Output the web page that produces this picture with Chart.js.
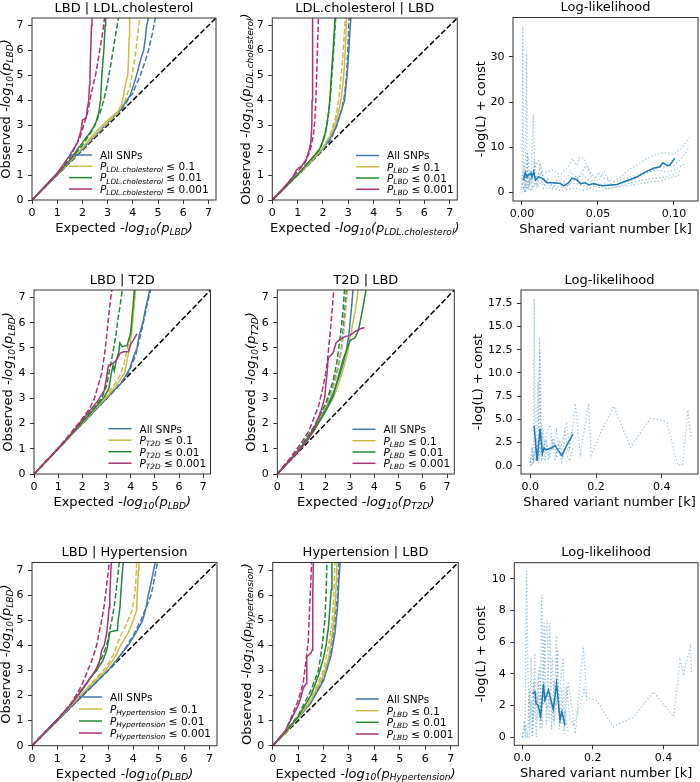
<!DOCTYPE html>
<html><head><meta charset="utf-8">
<script src="https://cdn.jsdelivr.net/npm/chart.js@4"></script>
<style>
html,body{margin:0;padding:0;background:#fff;overflow:hidden;width:700px;height:782px;position:relative;}
canvas{position:absolute;}
</style></head><body>
<script>
// ---------------- DATA ----------------
const qqTicks = [0,1,2,3,4,5,6,7];
const qqRange = [0,7.3];
const diag = [[0,0],[7.3,7.3]];
const thresholds = ['0.1','0.01','0.001'];

// Panel A: LBD | LDL.cholesterol  (solid = observed, dashed = reference)
const A_all_s = [[0,0],[1,1],[2,2.05],[3,3.1],[3.5,3.6],[3.9,4.2],[4.15,5.0],[4.3,5.6],[4.43,6.0],[4.5,6.5],[4.55,7.0],[4.62,7.3]];
const A_all_d = [[0,0],[1,1],[2,2.02],[3,3.05],[3.6,3.7],[4.0,4.3],[4.3,5.0],[4.5,5.6],[4.62,6.0],[4.78,6.7],[4.89,7.3]];
const A_p1_s = [[0,0],[1,1.02],[2,2.1],[2.5,2.7],[3.0,3.2],[3.4,3.55],[3.55,3.8],[3.65,4.3],[3.72,4.7],[3.8,5.0],[3.83,5.6],[3.85,6.5],[3.87,7.3]];
const A_p1_d = [[0,0],[1,1.02],[2,2.08],[2.5,2.6],[3.0,3.1],[3.4,3.5],[3.7,4.0],[3.9,4.6],[4.0,5.2],[4.1,5.8],[4.18,6.5],[4.27,7.3]];
const A_p01_s = [[0,0],[1,1.05],[1.5,1.6],[2,2.3],[2.3,2.7],[2.5,3.0],[2.65,3.5],[2.72,4.0],[2.77,5.0],[2.85,6.0],[2.9,7.0],[2.92,7.3]];
const A_p01_d = [[0,0],[1,1.05],[1.5,1.6],[2,2.2],[2.4,2.8],[2.7,3.5],[2.85,4.0],[3.0,4.7],[3.1,5.3],[3.22,6.0],[3.33,6.7],[3.43,7.3]];
const A_p001_s = [[0,0],[1,1.08],[1.5,1.8],[1.8,2.3],[1.95,2.8],[2.0,3.2],[2.15,3.3],[2.2,3.7],[2.25,4.0],[2.28,4.6],[2.3,5.0],[2.33,6.0],[2.36,7.0],[2.38,7.3]];
const A_p001_d = [[0,0],[1,1.05],[1.5,1.7],[1.9,2.5],[2.05,3.0],[2.2,3.5],[2.3,4.0],[2.42,4.6],[2.52,5.0],[2.62,5.6],[2.72,6.2],[2.8,6.7],[2.88,7.3]];

// Panel B: LDL.cholesterol | LBD
const B_all_s = [[0,0],[0.5,0.5],[1,1.0],[1.5,1.5],[2,2.05],[2.3,2.5],[2.5,2.9],[2.7,3.5],[2.85,4.0],[2.95,5.0],[3.02,6.0],[3.06,6.7],[3.1,7.3]];
const B_all_d = [[0,0],[1,1.0],[2,2.02],[2.3,2.4],[2.55,3.0],[2.75,3.7],[2.85,4.2],[2.93,5.0],[2.98,6.0],[3.03,7.3]];
const B_p1_s = [[0,0],[1,1.0],[1.5,1.5],[2,2.1],[2.3,2.6],[2.5,3.1],[2.65,3.7],[2.75,4.3],[2.82,5.0],[2.88,6.0],[2.93,7.3]];
const B_p1_d = [[0,0],[1,1.0],[2,2.08],[2.3,2.65],[2.5,3.3],[2.62,4.0],[2.72,5.0],[2.8,6.0],[2.88,7.3]];
const B_p01_s = [[0,0],[1,1.02],[1.5,1.6],[1.85,2.0],[2.05,2.5],[2.15,3.0],[2.22,3.5],[2.27,4.0],[2.33,5.0],[2.4,6.0],[2.44,6.7],[2.48,7.3]];
const B_p01_d = [[0,0],[1,1.02],[1.5,1.58],[1.9,2.1],[2.1,2.7],[2.2,3.3],[2.28,4.0],[2.35,5.0],[2.42,6.0],[2.5,7.3]];
const B_p001_s = [[0,0],[0.5,0.55],[0.8,0.9],[0.95,1.2],[1.05,1.3],[1.15,1.35],[1.25,1.5],[1.35,1.65],[1.45,2.0],[1.52,2.3],[1.56,3.0],[1.57,4.0],[1.58,5.0],[1.59,6.0],[1.6,7.3]];
const B_p001_d = [[0,0],[0.5,0.55],[1,1.15],[1.3,1.5],[1.5,2.0],[1.62,2.6],[1.68,3.2],[1.72,4.0],[1.75,5.0],[1.78,6.0],[1.82,7.3]];

// Panel C: log-likelihood (row 1)
const C_xTicks = [0,0.05,0.10];
const C_yTicks = [0,10,20,30];
const C_xRange = [-0.0059,0.1158];
const C_yRange = [-1.85,38.7];
const C_mean = [[0.0011,2.8],[0.0022,4.4],[0.0033,3.5],[0.0044,3.9],[0.0059,4.3],[0.0066,3.4],[0.0077,4.6],[0.0088,2.8],[0.011,3.5],[0.0132,3.2],[0.0164,2.2],[0.0208,2.2],[0.0252,2.0],[0.0274,1.5],[0.0307,2.2],[0.0329,3.2],[0.0362,2.8],[0.0384,2.0],[0.0417,2.2],[0.0439,1.7],[0.0471,2.0],[0.0504,1.7],[0.0537,1.5],[0.0581,1.7],[0.0625,1.8],[0.0669,2.4],[0.0713,2.9],[0.0757,3.5],[0.080,4.3],[0.0833,4.9],[0.0866,5.4],[0.0906,5.7],[0.0928,6.6],[0.095,6.1],[0.0971,6.0],[0.1005,7.6]];
const C_rep1 = [[0.000,0.5],[0.0005,36.9],[0.001,2],[0.002,5],[0.003,1],[0.004,8],[0.005,2],[0.007,4],[0.009,6],[0.011,7],[0.013,5],[0.016,4.5],[0.02,5],[0.025,4],[0.03,5.5],[0.033,7.5],[0.036,6],[0.038,7.8],[0.041,7.5],[0.044,5],[0.047,2],[0.05,4.5],[0.055,3],[0.06,2.5],[0.065,3.5],[0.07,5],[0.075,6],[0.08,7],[0.085,8],[0.09,8.6],[0.095,8.9],[0.1,8.5],[0.105,9.8],[0.11,12.2]];
const C_rep2 = [[0.000,1],[0.001,4],[0.002,0.5],[0.003,30.7],[0.0035,2],[0.005,3],[0.007,1],[0.009,3],[0.012,5],[0.015,3],[0.02,2],[0.025,2.5],[0.03,1.5],[0.035,3],[0.04,4],[0.045,2.5],[0.05,1],[0.055,2],[0.06,1.5],[0.07,2.5],[0.08,4],[0.09,5.5],[0.1,6],[0.105,7.5],[0.11,10]];
const C_rep3 = [[0.000,2],[0.002,0],[0.004,2],[0.006,3],[0.0075,17.2],[0.0085,4],[0.01,2],[0.012,6],[0.014,3],[0.018,2],[0.022,1.5],[0.028,1],[0.032,2],[0.036,2],[0.04,1.5],[0.045,1],[0.05,2],[0.053,1],[0.058,0.8],[0.065,1.5],[0.075,2.5],[0.085,3],[0.095,3.5],[0.1,4],[0.105,5]];
const C_rep4 = [[0.000,0],[0.001,1],[0.002,0],[0.004,1.5],[0.006,0.3],[0.008,2],[0.01,1],[0.013,2.5],[0.016,1],[0.02,1.2],[0.025,0.5],[0.03,0.8],[0.035,1],[0.04,0.5],[0.045,1],[0.05,0.3],[0.055,0.8],[0.06,1.2],[0.07,1.5],[0.08,2.2],[0.09,2.5],[0.1,3.5],[0.105,4]];
const C_rep5 = [[0.000,3],[0.0015,6],[0.0025,1],[0.0035,9],[0.0045,0.5],[0.0055,5],[0.0065,2],[0.008,6.5],[0.0095,1.5],[0.012,4],[0.014,1],[0.017,3],[0.02,0.8],[0.024,3.5],[0.028,2.5],[0.032,4.5],[0.037,3],[0.042,6],[0.046,4],[0.05,2.5],[0.054,4.8],[0.058,2],[0.064,2.8],[0.07,3.2],[0.08,4.5],[0.09,5],[0.095,4.5],[0.1,5],[0.108,6.5]];

// Panel D: LBD | T2D
const D_all_s = [[0,0],[1,1],[2,2.0],[2.5,2.5],[3.0,3.0],[3.3,3.3],[3.6,3.6],[3.8,3.9],[3.97,4.2],[4.1,4.6],[4.26,5.0],[4.35,5.5],[4.5,6.0],[4.6,6.5],[4.72,7.0],[4.78,7.3]];
const D_all_d = [[0,0],[1,1],[2,2],[3,3],[3.5,3.5],[3.9,4.0],[4.2,4.7],[4.35,5.3],[4.5,5.9],[4.65,6.6],[4.82,7.3]];
const D_p1_s = [[0,0],[1,1],[2,2.02],[2.5,2.55],[3.0,3.05],[3.4,3.5],[3.6,3.8],[3.75,4.0],[3.85,4.5],[3.95,5.0],[4.05,5.7],[4.1,6.2],[4.15,6.8],[4.2,7.3]];
const D_p1_d = [[0,0],[1,1],[2,2.02],[2.5,2.6],[3.0,3.15],[3.3,3.5],[3.55,3.9],[3.7,4.3],[3.85,4.9],[3.95,5.4],[4.05,6.0],[4.12,6.6],[4.2,7.3]];
const D_p01_s = [[0,0],[1,1],[2,2.05],[2.5,2.6],[2.9,3.05],[3.1,3.4],[3.2,4.0],[3.27,4.3],[3.32,4.1],[3.4,4.5],[3.5,4.8],[3.55,5.2],[3.65,5.05],[3.85,5.1],[4.0,5.6],[4.05,6.2],[4.1,6.7],[4.15,7.3]];
const D_p01_d = [[0,0],[1,1],[2,2.1],[2.5,2.65],[2.8,3.0],[3.0,3.5],[3.1,4.0],[3.2,4.5],[3.3,5.0],[3.4,5.6],[3.45,6.0],[3.55,6.6],[3.65,7.3]];
const D_p001_s = [[0,0],[1,1.02],[1.5,1.55],[2,2.15],[2.3,2.5],[2.6,2.85],[2.9,3.3],[3.0,3.8],[3.08,4.32],[3.2,4.35],[3.35,4.45],[3.46,4.6],[3.57,4.8],[3.7,4.85],[3.9,4.85],[4.0,5.15],[4.1,5.3],[4.26,5.56]];
const D_p001_d = [[0,0],[1,1.03],[1.5,1.6],[2,2.2],[2.3,2.6],[2.5,3.0],[2.65,3.5],[2.8,4.0],[2.88,4.5],[2.95,5.0],[3.02,5.6],[3.08,6.2],[3.15,6.8],[3.22,7.3]];

// Panel E: T2D | LBD
const E_all_s = [[0,0],[0.5,0.55],[1,1.1],[1.5,1.8],[2,2.6],[2.3,3.2],[2.5,3.7],[2.7,4.3],[2.85,4.9],[2.95,5.5],[3.02,6.2],[3.08,6.8],[3.12,7.3]];
const E_all_d = [[0,0],[0.5,0.55],[1,1.12],[1.5,1.85],[2,2.75],[2.3,3.5],[2.5,4.2],[2.65,5.0],[2.72,5.8],[2.8,6.7],[2.85,7.3]];
const E_p1_s = [[0,0],[0.5,0.52],[1,1.05],[1.5,1.7],[2,2.5],[2.3,3.0],[2.5,3.5],[2.7,4.1],[2.9,4.8],[3.0,5.4],[3.1,5.9],[3.2,6.4],[3.28,6.9],[3.33,7.3]];
const E_p1_d = [[0,0],[1,1.1],[1.5,1.8],[2,2.7],[2.3,3.4],[2.5,4.1],[2.65,4.9],[2.75,5.7],[2.83,6.6],[2.9,7.3]];
const E_p01_s = [[0,0],[0.5,0.52],[1,1.05],[1.5,1.7],[2,2.5],[2.3,3.1],[2.5,3.8],[2.7,4.5],[2.85,4.9],[3.0,5.3],[3.2,5.4],[3.35,5.7],[3.45,6.2],[3.55,6.7],[3.6,7.0],[3.66,7.3]];
const E_p01_d = [[0,0],[0.5,0.55],[1,1.12],[1.5,1.85],[2,2.8],[2.3,3.7],[2.45,4.4],[2.55,5.1],[2.65,5.9],[2.72,6.6],[2.77,7.3]];
const E_p001_s = [[0,0],[0.5,0.52],[1,1.05],[1.3,1.4],[1.6,2.0],[1.8,2.5],[1.95,3.0],[2.0,3.5],[2.05,4.0],[2.1,4.6],[2.2,4.7],[2.3,4.8],[2.42,5.2],[2.6,5.35],[2.8,5.45],[3.0,5.5],[3.2,5.65],[3.4,5.75],[3.6,5.81]];
const E_p001_d = [[0,0],[0.5,0.6],[1,1.25],[1.3,1.7],[1.5,2.2],[1.7,2.7],[1.85,3.3],[2.0,4.0],[2.1,4.8],[2.2,5.8],[2.27,6.6],[2.33,7.3]];

// Panel F: log-likelihood (row 2)
const F_xTicks = [0,0.2,0.4];
const F_yTicks = [0,2.5,5,7.5,10,12.5,15,17.5];
const F_xRange = [-0.028,0.51];
const F_yRange = [-0.9,18.94];
const F_mean = [[0.012,4.3],[0.021,0.5],[0.030,4.0],[0.037,1.3],[0.042,1.9],[0.048,1.7],[0.055,1.8],[0.065,1.9],[0.0755,2.2],[0.084,1.7],[0.096,1.1],[0.111,2.2],[0.13,3.4]];
const F_rep1 = [[0.0,0.3],[0.005,2],[0.01,0.5],[0.012,18.0],[0.015,3],[0.02,1],[0.025,4],[0.028,13.8],[0.032,2],[0.035,4.5],[0.04,1.5],[0.05,3.5],[0.06,4.4],[0.07,2],[0.08,3.8],[0.09,1.5],[0.1,3],[0.11,4.7],[0.12,2],[0.13,4.3],[0.137,6.7],[0.152,1.3],[0.165,4],[0.178,6.7],[0.185,1.15],[0.213,3.5],[0.254,6.4],[0.305,2.0],[0.366,5.1],[0.397,4.9],[0.417,4.6],[0.448,0.07],[0.463,0.07],[0.479,6.0],[0.489,3.1]];
const F_rep2 = [[0.0,0.0],[0.006,1.5],[0.01,0.2],[0.015,2.5],[0.018,0.5],[0.024,9],[0.027,0.8],[0.03,12.5],[0.034,1],[0.04,4],[0.045,0.5],[0.05,2.5],[0.06,1],[0.07,3],[0.08,0.8],[0.09,2.5],[0.1,0.8],[0.105,4],[0.115,1.5],[0.125,3.5],[0.13,3]];
const F_rep3 = [[0.0,0.5],[0.005,0.0],[0.01,1],[0.02,2.3],[0.025,0.3],[0.03,2],[0.035,0.5],[0.045,2.8],[0.055,0.8],[0.065,2.8],[0.075,0.5],[0.085,2.2],[0.095,0.4],[0.105,1.8],[0.12,0.5],[0.13,2.0]];

// Panel G: LBD | Hypertension
const G_all_s = [[0,0],[1,1],[2,2.02],[2.5,2.5],[3.0,3.0],[3.4,3.5],[3.8,4.0],[4.1,4.5],[4.37,5.0],[4.5,5.5],[4.59,6.0],[4.7,6.5],[4.8,7.0],[4.86,7.3]];
const G_all_d = [[0,0],[1,1],[2,2.0],[3,3.0],[3.4,3.45],[3.75,4.0],[4.05,4.5],[4.3,5.0],[4.5,5.5],[4.7,6.0],[4.82,6.6],[4.95,7.3]];
const G_p1_s = [[0,0],[1,1.02],[2,2.1],[2.5,2.6],[2.9,3.0],[3.25,3.5],[3.5,4.0],[3.8,4.5],[4.0,5.0],[4.13,5.4],[4.15,6.0],[4.2,7.0],[4.22,7.3]];
const G_p1_d = [[0,0],[1,1.02],[2,2.1],[2.5,2.65],[2.9,3.1],[3.2,3.6],[3.35,4.0],[3.5,4.4],[3.75,4.9],[3.95,5.4],[4.05,6.0],[4.1,6.6],[4.13,7.3]];
const G_p01_s = [[0,0],[1,1.03],[1.5,1.6],[2,2.25],[2.3,2.7],[2.55,3.0],[2.8,3.4],[2.95,3.8],[3.05,4.4],[3.08,4.54],[3.37,4.6],[3.4,5.0],[3.47,5.5],[3.5,6.0],[3.55,6.7],[3.6,7.3]];
const G_p01_d = [[0,0],[1,1.03],[1.5,1.62],[2,2.3],[2.3,2.7],[2.5,3.0],[2.75,3.5],[2.95,4.0],[3.05,4.5],[3.15,5.0],[3.25,5.6],[3.3,6.0],[3.38,6.7],[3.44,7.3]];
const G_p001_s = [[0,0],[1,1.05],[1.5,1.6],[1.8,2.0],[2.2,2.55],[2.5,3.0],[2.6,3.2],[2.68,3.41],[2.75,3.8],[2.85,4.0],[2.95,4.5],[3.0,5.0],[3.04,5.5],[3.07,6.0],[3.1,6.7],[3.13,7.3]];
const G_p001_d = [[0,0],[1,1.05],[1.5,1.62],[1.8,2.1],[2.0,2.5],[2.2,3.0],[2.4,3.5],[2.55,4.0],[2.65,4.5],[2.75,5.0],[2.85,5.6],[2.9,6.0],[2.98,6.7],[3.05,7.3]];

// Panel H: Hypertension | LBD
const H_all_s = [[0,0],[0.5,0.52],[1,1.1],[1.5,1.7],[2.0,2.6],[2.3,3.6],[2.45,4.5],[2.55,5.5],[2.6,6.5],[2.65,7.3]];
const H_all_d = [[0,0],[0.5,0.52],[1,1.1],[1.5,1.75],[2.0,2.7],[2.3,3.8],[2.45,5.0],[2.55,6.0],[2.6,7.3]];
const H_p1_s = [[0,0],[0.5,0.52],[1,1.1],[1.5,1.8],[2.0,2.8],[2.2,3.5],[2.35,4.5],[2.45,5.5],[2.5,6.5],[2.53,7.3]];
const H_p1_d = [[0,0],[0.5,0.52],[1,1.12],[1.5,1.85],[2.0,3.0],[2.2,4.0],[2.35,5.0],[2.4,6.0],[2.45,7.3]];
const H_p01_s = [[0,0],[0.5,0.55],[1,1.15],[1.5,2.0],[1.8,2.8],[2.0,3.5],[2.1,4.0],[2.2,4.8],[2.25,5.5],[2.3,6.2],[2.33,7.3]];
const H_p01_d = [[0,0],[0.5,0.55],[1,1.2],[1.5,2.2],[1.8,3.0],[1.95,4.0],[2.05,5.0],[2.1,6.0],[2.13,7.3]];
const H_p001_s = [[0,0],[0.5,0.6],[0.8,1.2],[0.9,1.4],[1.0,1.6],[1.1,1.9],[1.2,2.3],[1.32,2.48],[1.34,3.55],[1.5,3.68],[1.55,3.8],[1.57,4.5],[1.58,6.0],[1.6,7.3]];
const H_p001_d = [[0,0],[0.5,0.6],[0.8,1.3],[1.0,1.8],[1.2,2.5],[1.3,3.3],[1.4,4.2],[1.45,5.5],[1.5,6.5],[1.53,7.3]];

// Panel I: log-likelihood (row 3)
const I_xTicks = [0,0.2,0.4];
const I_yTicks = [0,2,4,6,8,10];
const I_xRange = [-0.0227,0.498];
const I_yRange = [-0.52,11.01];
const I_mean = [[0.029,2.76],[0.036,2.86],[0.039,2.1],[0.045,2.0],[0.052,1.28],[0.06,3.35],[0.064,2.34],[0.074,2.97],[0.088,1.75],[0.097,3.39],[0.107,1.07],[0.112,1.6],[0.121,0.76]];
const I_rep1 = [[0.0,0],[0.008,0],[0.012,10.5],[0.016,4],[0.02,0.5],[0.025,5],[0.03,0.2],[0.035,5.3],[0.04,1],[0.045,4],[0.05,0.5],[0.055,9.0],[0.06,2],[0.065,6],[0.071,7.4],[0.076,1],[0.085,5],[0.09,0.8],[0.097,6.4],[0.103,1.5],[0.11,4],[0.116,5.0],[0.12,0.5],[0.13,3.5],[0.15,0.2],[0.173,5.7],[0.183,2.5],[0.211,2.3],[0.258,0.65],[0.315,1.28],[0.372,2.86],[0.429,1.28],[0.447,4.86],[0.457,4.0],[0.476,5.7],[0.48,4.1]];
const I_rep2 = [[0.0,0],[0.01,0.8],[0.015,0],[0.02,3],[0.028,0],[0.033,3.5],[0.04,0],[0.048,4.5],[0.056,0.5],[0.062,7.2],[0.068,0.8],[0.078,7.2],[0.083,0.5],[0.09,3.5],[0.095,2],[0.1,5.5],[0.105,0.5],[0.112,3],[0.118,0.2],[0.125,3.2],[0.135,1.2],[0.145,0.7],[0.16,1.8],[0.175,3],[0.185,2.2]];
const I_rep3 = [[0.0,0],[0.005,1],[0.01,0],[0.02,0],[0.025,2.3],[0.03,1],[0.04,2.8],[0.05,1.2],[0.058,3.3],[0.07,1.8],[0.08,2.5],[0.09,1],[0.1,2.9],[0.11,0.8],[0.12,1.5],[0.13,0.3]];

// ---------------- RENDERING ----------------
const FONT = 'DejaVu Sans';
Chart.defaults.font.family = FONT;
const COL = ['#4477AA','#CCBB44','#228833','#AA3377'];
const LL_BLUE = '#1f77b4';
const LL_DOT = 'rgba(31,119,180,0.42)';
const DASH = [5.5,2.4];

function qqLabel(prefix, sub){
  return [[prefix,'n'],['log','i'],['10','si'],['(','i'],['p','i'],[sub,'si'],[')','i']];
}
function legendEntries(trait){
  const e = [[['All SNPs','n']]];
  thresholds.forEach(t => e.push([['P','i'],[trait,'si'],[' \u2264 '+t,'n']]));
  return e;
}
function qqSets(g){
  const sets = [{data:diag,color:'#000',dash:DASH,w:1.5}];
  for (let i=0;i<4;i++){
    sets.push({data:g[2*i],color:COL[i],dash:[],w:1.5});
    sets.push({data:g[2*i+1],color:COL[i],dash:DASH,w:1.5});
  }
  return sets;
}
function llSets(mean, reps){
  const sets = reps.map(r => ({data:r,color:LL_DOT,dash:[1.3,2.2],w:1.3}));
  sets.push({data:mean,color:LL_BLUE,dash:[],w:1.5});
  return sets;
}
const fmtInt = v => String(v);
const fmt1 = v => v.toFixed(1);
const fmt2 = v => v.toFixed(2);
const fmt0 = v => String(Math.round(v));

const cols = [[0,236],[236,466],[466,700]];
const rows = [[0,250],[250,520],[520,782]];

const panels = [
 {r:0,c:0,area:[32,18,216,200],xr:qqRange,yr:qqRange,xt:qqTicks,yt:qqTicks,fx:fmtInt,fy:fmtInt,
  title:'LBD | LDL.cholesterol',xl:qqLabel('Expected -','LBD'),yl:qqLabel('Observed -','LBD'),ylOff:21,
  sets:qqSets([A_all_s,A_all_d,A_p1_s,A_p1_d,A_p01_s,A_p01_d,A_p001_s,A_p001_d]),
  leg:{x:100,rows:[155,166.3,177.6,189],items:legendEntries('LDL.cholesterol')}},
 {r:0,c:1,area:[272.3,18,457.3,200],xr:qqRange,yr:qqRange,xt:qqTicks,yt:qqTicks,fx:fmtInt,fy:fmtInt,
  title:'LDL.cholesterol | LBD',xl:qqLabel('Expected -','LDL.cholesterol'),yl:qqLabel('Observed -','LDL.cholesterol'),ylOff:21,
  sets:qqSets([B_all_s,B_all_d,B_p1_s,B_p1_d,B_p01_s,B_p01_d,B_p001_s,B_p001_d]),
  leg:{x:387,rows:[155.5,166.8,178,189.3],items:legendEntries('LBD')}},
 {r:0,c:2,area:[513,17.5,698,201],xr:C_xRange,yr:C_yRange,xt:C_xTicks,yt:C_yTicks,fx:fmt2,fy:fmt0,
  title:'Log-likelihood',xl:[['Shared variant number [k]','n']],yl:[['-log(L) + const','n']],ylOff:27.5,
  sets:llSets(C_mean,[C_rep1,C_rep2,C_rep3,C_rep4,C_rep5])},
 {r:1,c:0,area:[34,290,210.5,474],xr:qqRange,yr:qqRange,xt:qqTicks,yt:qqTicks,fx:fmtInt,fy:fmtInt,
  title:'LBD | T2D',xl:qqLabel('Expected -','LBD'),yl:qqLabel('Observed -','LBD'),ylOff:21,
  sets:qqSets([D_all_s,D_all_d,D_p1_s,D_p1_d,D_p01_s,D_p01_d,D_p001_s,D_p001_d]),
  leg:{x:139.5,rows:[428.7,440.2,451.7,463.2],items:legendEntries('T2D')}},
 {r:1,c:1,area:[277.3,290,454.3,474],xr:qqRange,yr:qqRange,xt:qqTicks,yt:qqTicks,fx:fmtInt,fy:fmtInt,
  title:'T2D | LBD',xl:qqLabel('Expected -','T2D'),yl:qqLabel('Observed -','T2D'),ylOff:21,
  sets:qqSets([E_all_s,E_all_d,E_p1_s,E_p1_d,E_p01_s,E_p01_d,E_p001_s,E_p001_d]),
  leg:{x:383.5,rows:[429.3,440.7,452,463.3],items:legendEntries('LBD')}},
 {r:1,c:2,area:[521,290,698,474],xr:F_xRange,yr:F_yRange,xt:F_xTicks,yt:F_yTicks,fx:fmt1,fy:fmt1,
  title:'Log-likelihood',xl:[['Shared variant number [k]','n']],yl:[['-log(L) + const','n']],ylOff:38.5,
  sets:llSets(F_mean,[F_rep1,F_rep2,F_rep3])},
 {r:2,c:0,area:[32,562.5,217,745.7],xr:qqRange,yr:qqRange,xt:qqTicks,yt:qqTicks,fx:fmtInt,fy:fmtInt,
  title:'LBD | Hypertension',xl:qqLabel('Expected -','LBD'),yl:qqLabel('Observed -','LBD'),ylOff:21,
  sets:qqSets([G_all_s,G_all_d,G_p1_s,G_p1_d,G_p01_s,G_p01_d,G_p001_s,G_p001_d]),
  leg:{x:110,rows:[697,709,721,733],items:legendEntries('Hypertension')}},
 {r:2,c:1,area:[272.7,562.5,458.3,745.7],xr:qqRange,yr:qqRange,xt:qqTicks,yt:qqTicks,fx:fmtInt,fy:fmtInt,
  title:'Hypertension | LBD',xl:qqLabel('Expected -','Hypertension'),yl:qqLabel('Observed -','Hypertension'),ylOff:21,
  sets:qqSets([H_all_s,H_all_d,H_p1_s,H_p1_d,H_p01_s,H_p01_d,H_p001_s,H_p001_d]),
  leg:{x:386.7,rows:[699,710.7,722.3,734],items:legendEntries('LBD')}},
 {r:2,c:2,area:[514.3,562.7,698,745.3],xr:I_xRange,yr:I_yRange,xt:I_xTicks,yt:I_yTicks,fx:fmt1,fy:fmt0,
  title:'Log-likelihood',xl:[['Shared variant number [k]','n']],yl:[['-log(L) + const','n']],ylOff:28,
  sets:llSets(I_mean,[I_rep1,I_rep2,I_rep3])}
];

function setFont(ctx, st, size){
  const sub = st.indexOf('s') >= 0, it = st.indexOf('i') >= 0;
  const fs = sub ? size*0.7 : size;
  ctx.font = (it ? 'italic ' : '') + fs + 'px "' + FONT + '"';
  return sub ? size*0.2 : 0;
}
function drawRich(ctx, segs, x, y, size, align){
  let w = 0;
  for (const [t,st] of segs){ setFont(ctx,st,size); w += ctx.measureText(t).width; }
  let cx = align === 'center' ? x - w/2 : x;
  ctx.textAlign = 'left'; ctx.textBaseline = 'alphabetic'; ctx.fillStyle = '#000';
  for (const [t,st] of segs){
    const dy = setFont(ctx,st,size);
    ctx.fillText(t, cx, y+dy);
    cx += ctx.measureText(t).width;
  }
}

function makeDeco(p, ox, oy){
  return {
    id:'deco'+p.r+p.c,
    afterDraw(chart){
      const ctx = chart.ctx, a = chart.chartArea;
      ctx.save();
      // frame
      ctx.strokeStyle = '#333'; ctx.lineWidth = 1;
      ctx.strokeRect(a.left, a.top, a.right-a.left, a.bottom-a.top);
      // title
      ctx.fillStyle = '#000'; ctx.font = '13px "'+FONT+'"';
      ctx.textAlign = 'center'; ctx.textBaseline = 'alphabetic';
      ctx.fillText(p.title, (a.left+a.right)/2, a.top-6.5);
      // x label
      drawRich(ctx, p.xl, (a.left+a.right)/2, a.bottom+32, 13, 'center');
      // y label
      ctx.save();
      ctx.translate(a.left - p.ylOff - 1, (a.top+a.bottom)/2);
      ctx.rotate(-Math.PI/2);
      drawRich(ctx, p.yl, 0, 0, 13, 'center');
      ctx.restore();
      // legend (positions given in page coordinates)
      if (p.leg){
        const lx = p.leg.x - ox;
        p.leg.items.forEach((segs,i) => {
          const y = p.leg.rows[i] - oy;
          ctx.strokeStyle = COL[i]; ctx.lineWidth = 1.5; ctx.setLineDash([]);
          ctx.beginPath(); ctx.moveTo(lx-31, y); ctx.lineTo(lx-8, y); ctx.stroke();
          drawRich(ctx, segs, lx, y+3.8, 10.5, 'left');
        });
      }
      ctx.restore();
    }
  };
}

function axis(range, ticks, fmt, isX, size){
  return {
    type:'linear', min:range[0], max:range[1],
    afterBuildTicks: s => { s.ticks = ticks.map(v => ({value:v})); },
    afterFit: s => {
      if (isX) s.height = size; else s.width = size;
      s.paddingTop = 0; s.paddingBottom = 0; s.paddingLeft = 0; s.paddingRight = 0;
    },
    grid:{drawOnChartArea:false, drawTicks:true, tickLength:4, color:'#333', lineWidth:1},
    border:{display:false},
    ticks:{font:{family:FONT,size:11}, color:'#000', padding:isX?2.6:4.5, maxRotation:0, minRotation:0,
           autoSkip:false, includeBounds:false, callback: v => fmt(v)}
  };
}

panels.forEach(p => {
  const [x0,x1] = cols[p.c], [y0,y1] = rows[p.r];
  const [L,T,R,B] = p.area;
  const cv = document.createElement('canvas');
  cv.width = x1-x0; cv.height = y1-y0;
  cv.style.left = x0+'px'; cv.style.top = y0+'px';
  cv.style.width = (x1-x0)+'px'; cv.style.height = (y1-y0)+'px';
  document.body.appendChild(cv);
  const n = p.sets.length;
  new Chart(cv, {
    type:'scatter',
    data:{datasets: p.sets.map((s,i) => ({
      data: s.data.map(([x,y]) => ({x,y})),
      showLine:true, borderColor:s.color, backgroundColor:s.color, borderWidth:s.w,
      borderDash:s.dash, pointRadius:0, pointHoverRadius:0, fill:false, tension:0,
      order: n - i
    }))},
    options:{
      responsive:false, animation:false, devicePixelRatio:1,
      layout:{padding:{left:0, top:T-y0, right:x1-R, bottom:0}},
      plugins:{legend:{display:false}, tooltip:{enabled:false}, title:{display:false}},
      scales:{
        x: axis(p.xr, p.xt, p.fx, true, y1-B),
        y: axis(p.yr, p.yt, p.fy, false, L-x0)
      }
    },
    plugins:[makeDeco(p, x0, y0)]
  });
});
</script>
</body></html>
